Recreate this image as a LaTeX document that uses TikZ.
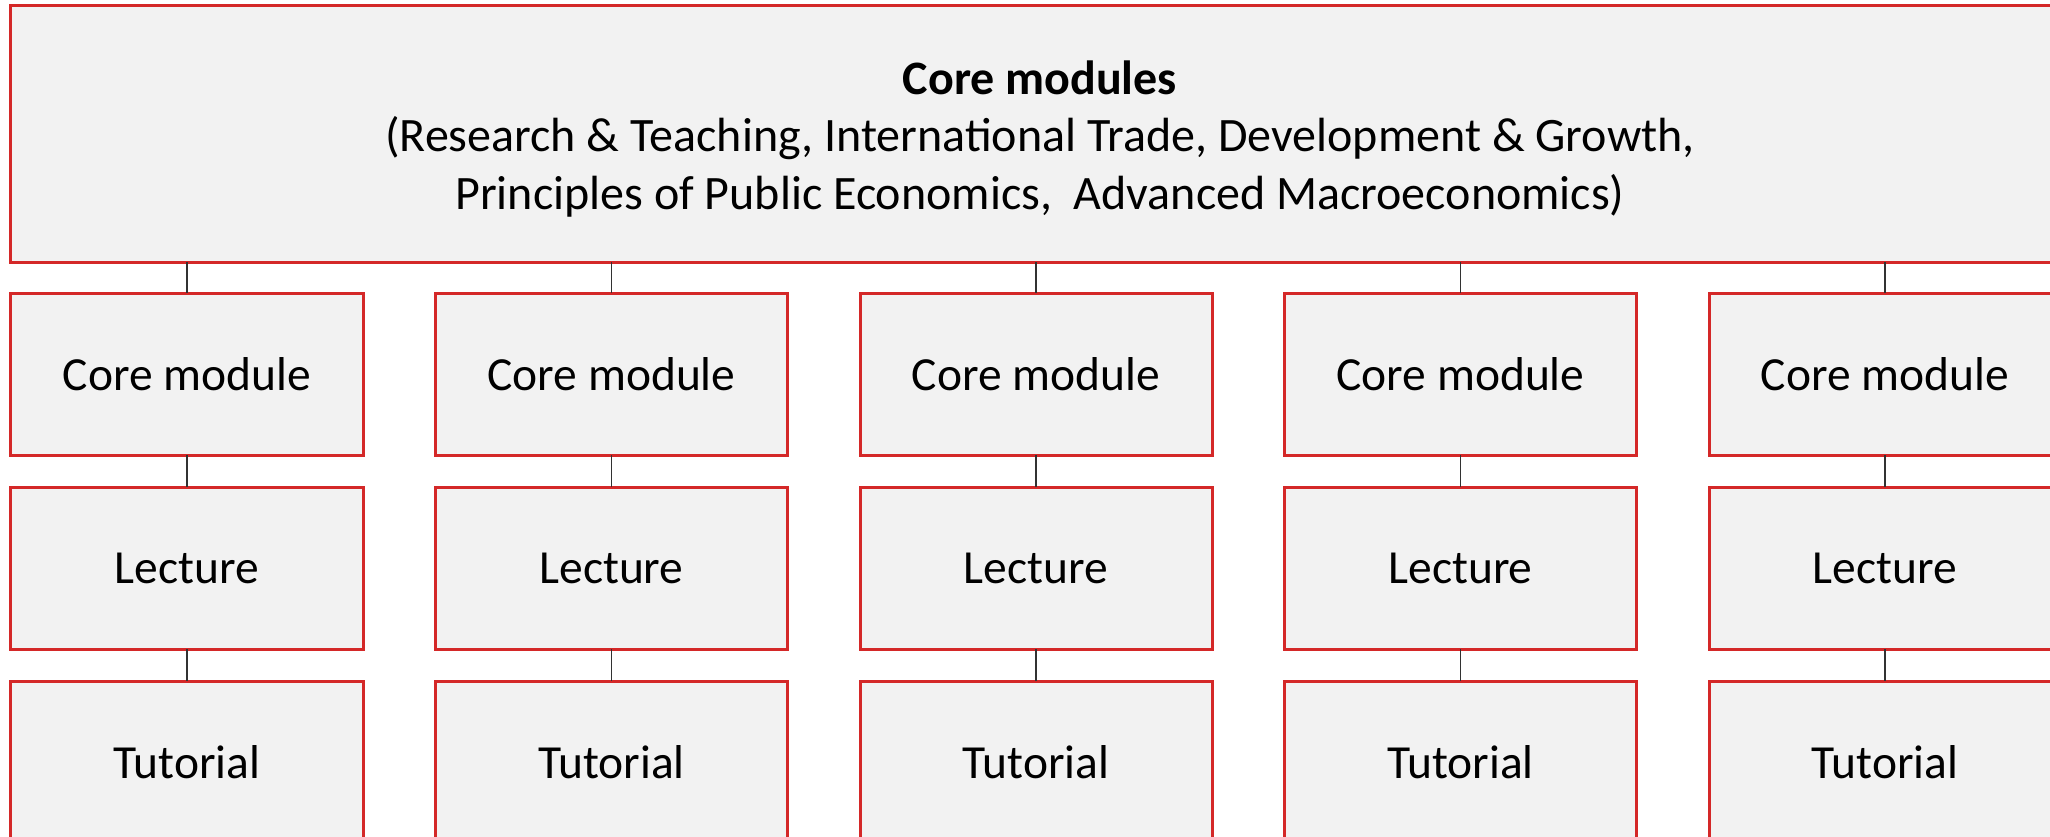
\documentclass[tikz,border=0pt]{standalone}
\usepackage{fontspec}
\setmainfont{Carlito}
\definecolor{boxred}{RGB}{212,40,40}
\definecolor{boxfill}{RGB}{242,242,242}
\definecolor{linkgray}{RGB}{50,50,50}
\begin{document}
\begin{tikzpicture}[x=1bp,y=-1bp,
  box/.style={draw=boxred, fill=boxfill, line width=3bp, inner sep=0pt, outer sep=0pt,
    minimum width=352bp, minimum height=162bp, font=\fontsize{47.5bp}{57.5bp}\selectfont},
  topbox/.style={draw=boxred, fill=boxfill, line width=3bp, inner sep=0pt, outer sep=0pt,
    minimum width=2050bp, minimum height=256bp},
  toptext/.style={align=center, inner sep=0pt, font=\fontsize{48bp}{57.5bp}\selectfont},
  link/.style={draw=linkgray, line width=1.5bp}]
\useasboundingbox (0,0) rectangle (2050,837);
\node[topbox] (top) at (1036,134) {};
\node[toptext] (toptxt) at (1040,139) {\textbf{Core modules}\\(Research \& Teaching, International Trade, Development \& Growth,\\Principles of Public Economics, \ Advanced Macroeconomics)};
\foreach \i/\x in {1/187,2/611.5,3/1036,4/1460.5,5/1885} {
  \node[box] (cm\i) at (\x,374) {Core module};
  \node[box] (lec\i) at (\x,568) {Lecture};
  \node[box] (tut\i) at (\x,762) {Tutorial};
  \draw[link] (top.south -| cm\i.north) -- (cm\i.north);
  \draw[link] (cm\i.south) -- (lec\i.north);
  \draw[link] (lec\i.south) -- (tut\i.north);
}
\end{tikzpicture}
\end{document}
